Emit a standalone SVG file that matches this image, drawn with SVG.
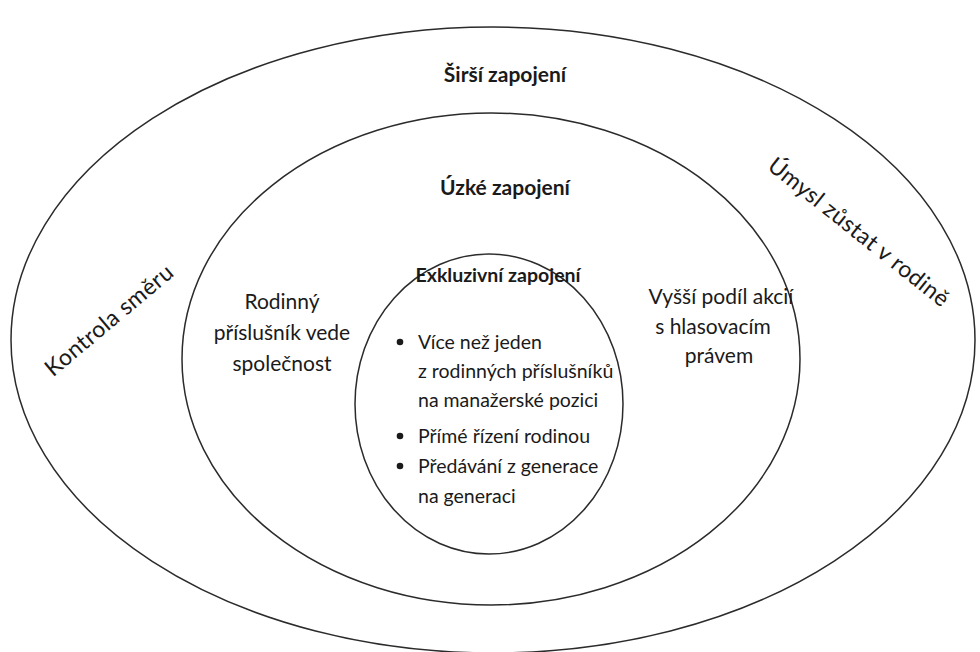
<svg xmlns="http://www.w3.org/2000/svg" width="980" height="652" viewBox="0 0 980 652">
<style>
.ring{fill:none;stroke:#2b2b2b;stroke-width:1.5}
.t{font-family:Lato,"Liberation Sans",sans-serif;font-size:21px;fill:#1a1a1a}
.s{font-size:19.5px}
.b{font-weight:bold}
.m{text-anchor:middle}
.r{font-family:Lato,"Liberation Sans",sans-serif;font-size:23px;fill:#1a1a1a;text-anchor:middle;letter-spacing:0.4px}
</style>
<rect width="980" height="652" fill="#fff"/>
<g id="outer">
<ellipse class="ring" cx="493" cy="340" rx="482" ry="313"/>
<text class="t b m" x="505" y="82">Širší zapojení</text>
<text class="r" transform="translate(109,320) rotate(-40)" y="8">Kontrola směru</text>
<text class="r" transform="translate(859,232) rotate(38.5)" y="8">Úmysl zůstat v rodině</text>
</g>
<g id="middle">
<ellipse class="ring" cx="491" cy="359" rx="309" ry="246"/>
<text class="t b m" x="505" y="195">Úzké zapojení</text>
<text class="t m" x="282" y="309">Rodinný</text>
<text class="t m" x="282" y="340">příslušník vede</text>
<text class="t m" x="282" y="371">společnost</text>
<text class="t m" x="721" y="304">Vyšší podíl akcií</text>
<text class="t m" x="713" y="334">s hlasovacím</text>
<text class="t m" x="719" y="363">právem</text>
</g>
<g id="inner">
<ellipse class="ring" cx="489" cy="404" rx="134" ry="150"/>
<text class="t s b m" x="498" y="282">Exkluzivní zapojení</text>
<circle cx="400" cy="342" r="3.3" fill="#1a1a1a"/>
<circle cx="400" cy="436" r="3.3" fill="#1a1a1a"/>
<circle cx="400" cy="466" r="3.3" fill="#1a1a1a"/>
<text class="t s" x="418" y="349">Více než jeden</text>
<text class="t s" x="418" y="378">z rodinných příslušníků</text>
<text class="t s" x="418" y="407">na manažerské pozici</text>
<text class="t s" x="418" y="443">Přímé řízení rodinou</text>
<text class="t s" x="418" y="473">Předávání z generace</text>
<text class="t s" x="418" y="503">na generaci</text>
</g>
<g id="connectors"></g>
</svg>
